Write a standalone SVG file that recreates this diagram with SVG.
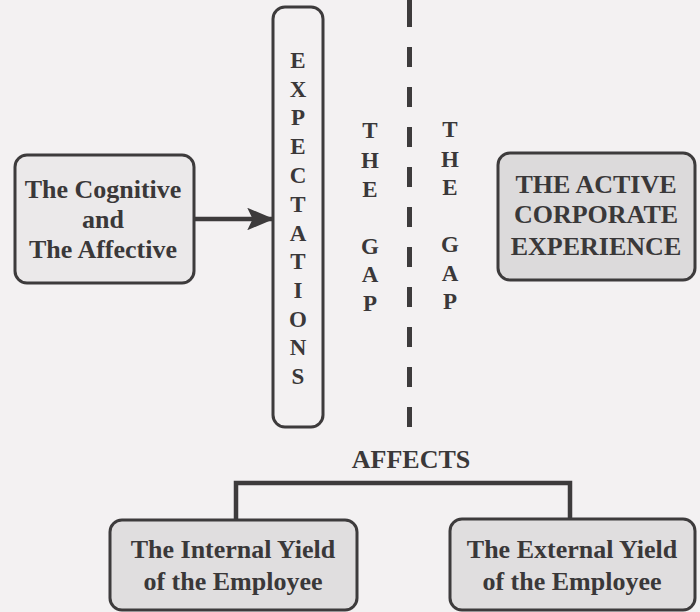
<svg xmlns="http://www.w3.org/2000/svg" width="700" height="612" viewBox="0 0 700 612">
  <style>
    .box { stroke: #3d3b3c; stroke-width: 3; }
    .t { font-family: 'Liberation Serif', Tinos, 'Times New Roman', 'DejaVu Serif', serif; font-weight: bold; fill: #3a3839; text-anchor: middle; }
    .big { font-size: 26px; }
    .v { font-size: 23px; }
    .conn { stroke: #3d3b3c; fill: none; }
  </style>
  <defs>
    <marker id="arrow" markerWidth="6" markerHeight="5" refX="5.5" refY="2.5" orient="auto" markerUnits="strokeWidth">
      <path d="M0,0 L6,2.5 L0,5 L1.2,2.5 Z" fill="#3d3b3c"/>
    </marker>
  </defs>
  <rect width="700" height="612" fill="#f3f1f2"/>

  <g id="connectors">
    <line class="conn" x1="194" y1="219" x2="272" y2="219" stroke-width="4.5" marker-end="url(#arrow)"/>
    <line class="conn" x1="409.5" y1="0" x2="409.5" y2="27" stroke-width="5"/>
    <line class="conn" x1="409.5" y1="47" x2="409.5" y2="428" stroke-width="5" stroke-dasharray="20 20"/>
    <polyline class="conn" points="236,519 236,483 570,483 570,519" stroke-width="4.5"/>
  </g>

  <g id="cognitive">
    <rect class="box" x="15" y="155" width="179" height="128" rx="12" fill="#ebe9ea"/>
    <text class="t big" x="103" y="198">The Cognitive</text>
    <text class="t big" x="103" y="228">and</text>
    <text class="t big" x="103" y="258">The Affective</text>
  </g>

  <g id="expectations">
    <rect class="box" x="273" y="7" width="50" height="420" rx="12" fill="#f3f1f2"/>
    <text class="t v" x="298" y="68">E</text>
    <text class="t v" x="298" y="96.7">X</text>
    <text class="t v" x="298" y="125.4">P</text>
    <text class="t v" x="298" y="154">E</text>
    <text class="t v" x="298" y="183">C</text>
    <text class="t v" x="298" y="212">T</text>
    <text class="t v" x="298" y="240.5">A</text>
    <text class="t v" x="298" y="269">T</text>
    <text class="t v" x="298" y="298">I</text>
    <text class="t v" x="298" y="326.5">O</text>
    <text class="t v" x="298" y="355">N</text>
    <text class="t v" x="298" y="384">S</text>
  </g>

  <g id="gap-left">
    <text class="t v" x="370" y="138">T</text>
    <text class="t v" x="370" y="168">H</text>
    <text class="t v" x="370" y="197">E</text>
    <text class="t v" x="370" y="254">G</text>
    <text class="t v" x="370" y="282">A</text>
    <text class="t v" x="370" y="311">P</text>
  </g>

  <g id="gap-right">
    <text class="t v" x="450" y="137">T</text>
    <text class="t v" x="450" y="167">H</text>
    <text class="t v" x="450" y="195">E</text>
    <text class="t v" x="450" y="252">G</text>
    <text class="t v" x="450" y="281">A</text>
    <text class="t v" x="450" y="309">P</text>
  </g>

  <g id="corporate">
    <rect class="box" x="498" y="153" width="197" height="127" rx="12" fill="#dcdadb"/>
    <text class="t big" x="596" y="193">THE ACTIVE</text>
    <text class="t big" x="596" y="223">CORPORATE</text>
    <text class="t big" x="596" y="255">EXPERIENCE</text>
  </g>

  <g id="affects">
    <text class="t big" x="411" y="468">AFFECTS</text>
  </g>

  <g id="internal">
    <rect class="box" x="110" y="520" width="247" height="90" rx="12" fill="#e0dedf"/>
    <text class="t big" x="233" y="558">The Internal Yield</text>
    <text class="t big" x="233" y="590">of the Employee</text>
  </g>

  <g id="external">
    <rect class="box" x="450" y="519" width="245" height="91" rx="12" fill="#e0dedf"/>
    <text class="t big" x="572" y="558">The External Yield</text>
    <text class="t big" x="572" y="590">of the Employee</text>
  </g>
</svg>
